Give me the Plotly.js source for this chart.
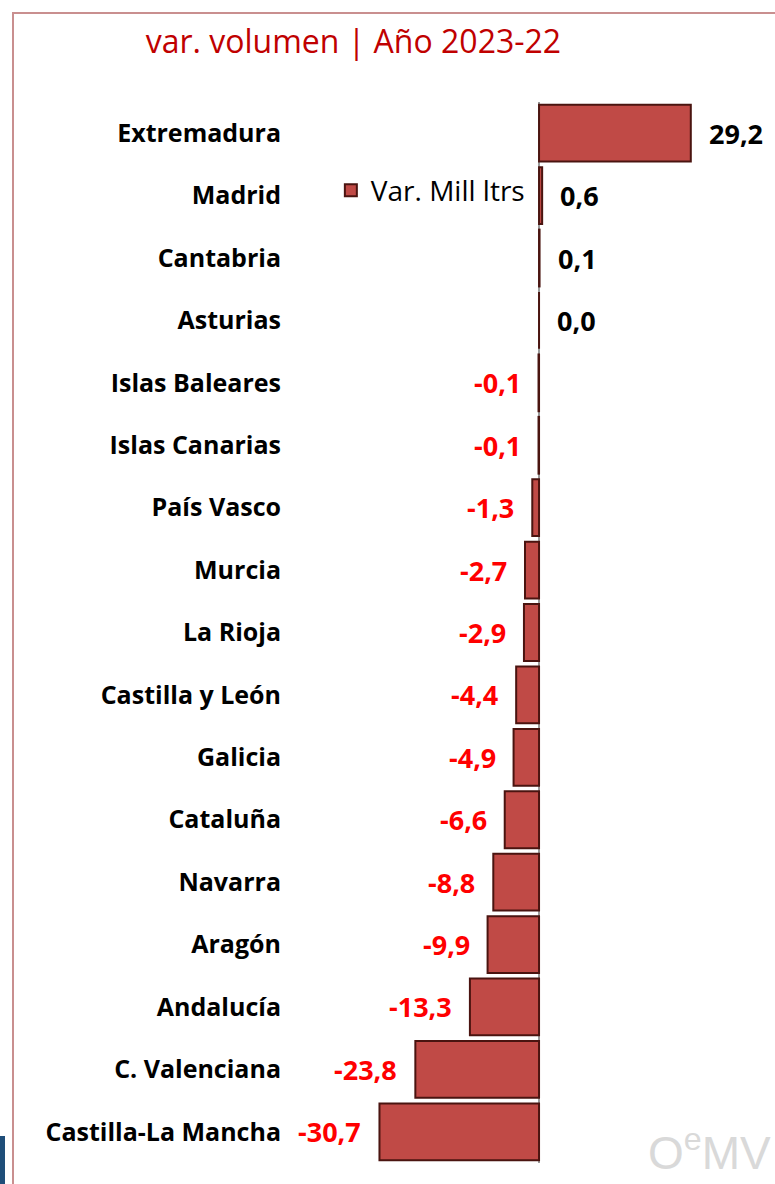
<!DOCTYPE html>
<html>
<head>
<meta charset="utf-8">
<script src="https://cdn.plot.ly/plotly-3.0.1.min.js"></script>
<style>
  html, body { margin: 0; padding: 0; background: #fff; }
  #wrap { position: relative; width: 775px; height: 1184px; overflow: hidden; }
  #frame { position: absolute; left: 12px; top: 12px; right: -5px; bottom: -5px;
           border-top: 2px solid #c98f8f; border-left: 2px solid #c98f8f; }
  #blue { position: absolute; left: 0; top: 1136px; width: 5px; height: 48px; background: #1f4e79; }
  #chart { position: absolute; left: 0; top: 0; width: 775px; height: 1184px; }
</style>
</head>
<body>
<div id="wrap">
  <div id="frame"></div>
  <div id="blue"></div>
  <div id="chart"></div>
</div>
<script>
const categories = ["Extremadura", "Madrid", "Cantabria", "Asturias", "Islas Baleares",
  "Islas Canarias", "País Vasco", "Murcia", "La Rioja", "Castilla y León", "Galicia",
  "Cataluña", "Navarra", "Aragón", "Andalucía", "C. Valenciana", "Castilla-La Mancha"];
const values = [29.2, 0.6, 0.1, 0.0, -0.1, -0.1, -1.3, -2.7, -2.9, -4.4, -4.9,
  -6.6, -8.8, -9.9, -13.3, -23.8, -30.7];
const valueLabels = ["29,2", "0,6", "0,1", "0,0", "-0,1", "-0,1", "-1,3", "-2,7", "-2,9",
  "-4,4", "-4,9", "-6,6", "-8,8", "-9,9", "-13,3", "-23,8", "-30,7"];
const seriesName = "Var. Mill ltrs";
const titleText = "var. volumen | Año 2023-22";
const watermark = "O<sup>e</sup>MV";

const trace = {
  type: "bar",
  orientation: "h",
  x: values,
  y: categories,
  name: seriesName,
  showlegend: true,
  marker: { color: "#c04a46", line: { color: "#4a1410", width: 2 } },
  hoverinfo: "x+y"
};

const annotations = values.map((v, i) => {
  const neg = v < 0 || valueLabels[i].startsWith("-");
  return {
    x: v, y: categories[i], xref: "x", yref: "y",
    text: valueLabels[i], showarrow: false,
    xanchor: neg ? "right" : "left",
    xshift: neg ? -16 : 16,
    font: { family: "Open Sans, sans-serif", size: 27, color: neg ? "#ff0000" : "#000000", weight: "bold" }
  };
});

annotations.push({
  xref: "paper", yref: "paper", x: 1.0, y: 0.0, xanchor: "right", yanchor: "bottom",
  text: watermark, showarrow: false, xshift: -2, yshift: -18,
  font: { family: "Liberation Sans, sans-serif", size: 46, color: "#d9d9d9" }
});

const layout = {
  width: 775, height: 1184,
  margin: { l: 288, r: 0, t: 102, b: 21 },
  paper_bgcolor: "rgba(0,0,0,0)",
  plot_bgcolor: "rgba(0,0,0,0)",
  title: {
    text: titleText, x: 0.188, xanchor: "left", y: 0.9645, yanchor: "middle",
    font: { family: "Open Sans, sans-serif", size: 32, color: "#c00000" }
  },
  bargap: 0.09,
  xaxis: {
    range: [-48.3, 45.4], showgrid: false, showticklabels: false, ticks: "",
    zeroline: true, zerolinecolor: "#9a9a9a", zerolinewidth: 2, showline: false, fixedrange: true
  },
  yaxis: {
    autorange: "reversed", showgrid: false, ticks: "", showline: false, zeroline: false,
    ticklabelstandoff: 6,
    tickfont: { family: "Open Sans, sans-serif", size: 25, color: "#000000", weight: "bold" }
  },
  showlegend: true,
  legend: {
    x: 0.088, y: 0.94, xanchor: "left", yanchor: "top",
    bgcolor: "rgba(0,0,0,0)", borderwidth: 0,
    font: { family: "Open Sans, sans-serif", size: 28, color: "#000000" },
    itemwidth: 30
  },
  annotations: annotations
};

Plotly.newPlot("chart", [trace], layout, { displayModeBar: false, staticPlot: true });
</script>
</body>
</html>
